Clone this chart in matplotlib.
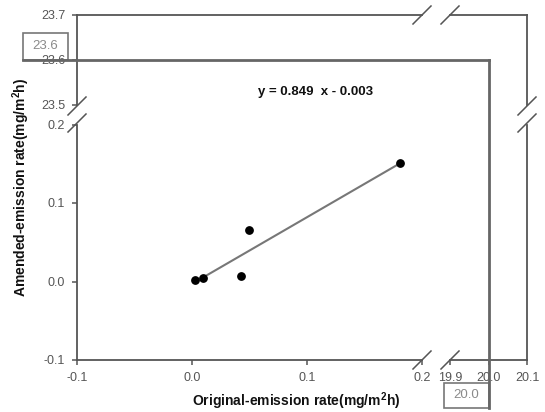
import matplotlib
matplotlib.use("Agg")
import matplotlib.pyplot as plt
from matplotlib.lines import Line2D
from matplotlib.patches import Rectangle

# ---- data ----
orig_rate = [0.003, 0.010, 0.043, 0.050, 0.181]
amended_rate = [0.002, 0.005, 0.007, 0.066, 0.151]
slope, intercept = 0.849, -0.003
fit_x = [0.010, 0.181]
x_ticks_low = [-0.1, 0.0, 0.1, 0.2]
x_ticks_high = [19.9, 20.0, 20.1]
y_ticks_low = [-0.1, 0.0, 0.1, 0.2]
y_ticks_high = [23.5, 23.6, 23.7]
x_mark = 20.0
y_mark = 23.6
equation = "y = 0.849  x - 0.003"
xlabel = r"Original-emission rate(mg/m$^\mathbf{2}$h)"
ylabel = r"Amended-emission rate(mg/m$^\mathbf{2}$h)"

plt.rcParams['font.family'] = ['Liberation Sans', 'DejaVu Sans']
plt.rcParams['mathtext.fontset'] = 'custom'
plt.rcParams['mathtext.bf'] = 'Liberation Sans:bold'
plt.rcParams['mathtext.rm'] = 'Liberation Sans'

W, H = 545, 412
fig = plt.figure(figsize=(W / 100, H / 100), dpi=100)

def rect(x0, x1, ytop, ybot):
    return [x0 / W, 1 - ybot / H, (x1 - x0) / W, (ybot - ytop) / H]

XL0, XL1, XR0, XR1 = 77, 422, 450, 527
YT0, YT1, YB0, YB1 = 15, 105, 124.5, 360

axA = fig.add_axes(rect(XL0, XL1, YB0, YB1))
axB = fig.add_axes(rect(XR0, XR1, YB0, YB1))
axC = fig.add_axes(rect(XL0, XL1, YT0, YT1))
axD = fig.add_axes(rect(XR0, XR1, YT0, YT1))

spc = '#555555'
tickc = '#555555'
for ax in (axA, axB, axC, axD):
    ax.patch.set_alpha(0)
    for s in ax.spines.values():
        s.set_color(spc)
        s.set_linewidth(1.3)
        s.set_visible(False)
    ax.tick_params(direction='out', length=3.5, width=1.1, color=spc,
                   labelcolor=tickc, labelsize=9, pad=5)

axA.set_xlim(-0.1, 0.2); axA.set_ylim(-0.1, 0.2)
axB.set_xlim(19.9, 20.1); axB.set_ylim(-0.1, 0.2)
axC.set_xlim(-0.1, 0.2); axC.set_ylim(23.5, 23.7)
axD.set_xlim(19.9, 20.1); axD.set_ylim(23.5, 23.7)

axA.spines['left'].set_visible(True); axA.spines['bottom'].set_visible(True)
axB.spines['bottom'].set_visible(True); axB.spines['right'].set_visible(True)
axC.spines['left'].set_visible(True); axC.spines['top'].set_visible(True)
axD.spines['top'].set_visible(True); axD.spines['right'].set_visible(True)

axA.set_xticks(x_ticks_low); axA.set_xticklabels([f"{v:.1f}" for v in x_ticks_low])
axA.set_yticks(y_ticks_low); axA.set_yticklabels([f"{v:.1f}" for v in y_ticks_low])
axB.set_xticks(x_ticks_high); axB.set_xticklabels([f"{v:.1f}" for v in x_ticks_high])
axB.set_yticks([])
axC.set_yticks(y_ticks_high); axC.set_yticklabels([f"{v:.1f}" for v in y_ticks_high])
axC.set_xticks([])
axD.set_xticks([]); axD.set_yticks([])

# data
fit_y = [slope * x + intercept for x in fit_x]
axA.plot(fit_x, fit_y, color='#777777', lw=1.5, zorder=2)
axA.scatter(orig_rate, amended_rate, s=28, color='black', zorder=3)

# equation
fig.text(316 / W, 1 - 92 / H, equation, ha='center', va='center',
         fontsize=9.5, fontweight='bold', color='#111111')

# axis labels
fig.text(296 / W, 1 - 401 / H, xlabel, ha='center', va='center',
         fontsize=10, fontweight='bold', color='#111111')
fig.text(21 / W, 1 - 187 / H, ylabel, ha='center', va='center', rotation=90,
         fontsize=10, fontweight='bold', color='#111111')

# break marks
def slash(px, py, d=9):
    fig.add_artist(Line2D([(px - d) / W, (px + d) / W],
                          [1 - (py + d) / H, 1 - (py - d) / H],
                          transform=fig.transFigure, color=spc, lw=1.1))
for px, py in [(XL0, 106), (XL0, 123), (XR1, 106), (XR1, 123),
               (XL1, YB1), (XR0, YB1), (XL1, YT0), (XR0, YT0)]:
    slash(px, py)

# marker lines at x=20.0 and y=23.6
fig.canvas.draw()
inv = fig.transFigure.inverted()
ymk = inv.transform(axC.transData.transform((0, y_mark)))[1]
xmk = inv.transform(axD.transData.transform((x_mark, 23.6)))[0]
box1_left = 23 / W
fig.add_artist(Line2D([box1_left, xmk], [ymk, ymk], transform=fig.transFigure,
                      color='#666666', lw=2))
ybot_line = 1 - 408 / H
fig.add_artist(Line2D([xmk, xmk], [ymk, ybot_line], transform=fig.transFigure,
                      color='#666666', lw=2))

# label boxes
bw, bh = 45 / W, 27 / H
fig.add_artist(Rectangle((box1_left, ymk), bw, bh, transform=fig.transFigure,
                         fill=False, edgecolor='#777777', lw=1.2))
fig.text(box1_left + bw / 2, ymk + bh / 2, f"{y_mark:.1f}", ha='center',
         va='center', fontsize=9.5, color='#8a8a8a')
bh2 = 25 / H
fig.add_artist(Rectangle((xmk - bw, ybot_line), bw, bh2, transform=fig.transFigure,
                         fill=False, edgecolor='#777777', lw=1.2))
fig.text(xmk - bw / 2, ybot_line + bh2 / 2, f"{x_mark:.1f}", ha='center',
         va='center', fontsize=9.5, color='#8a8a8a')

fig.savefig('out.png', dpi=100)
